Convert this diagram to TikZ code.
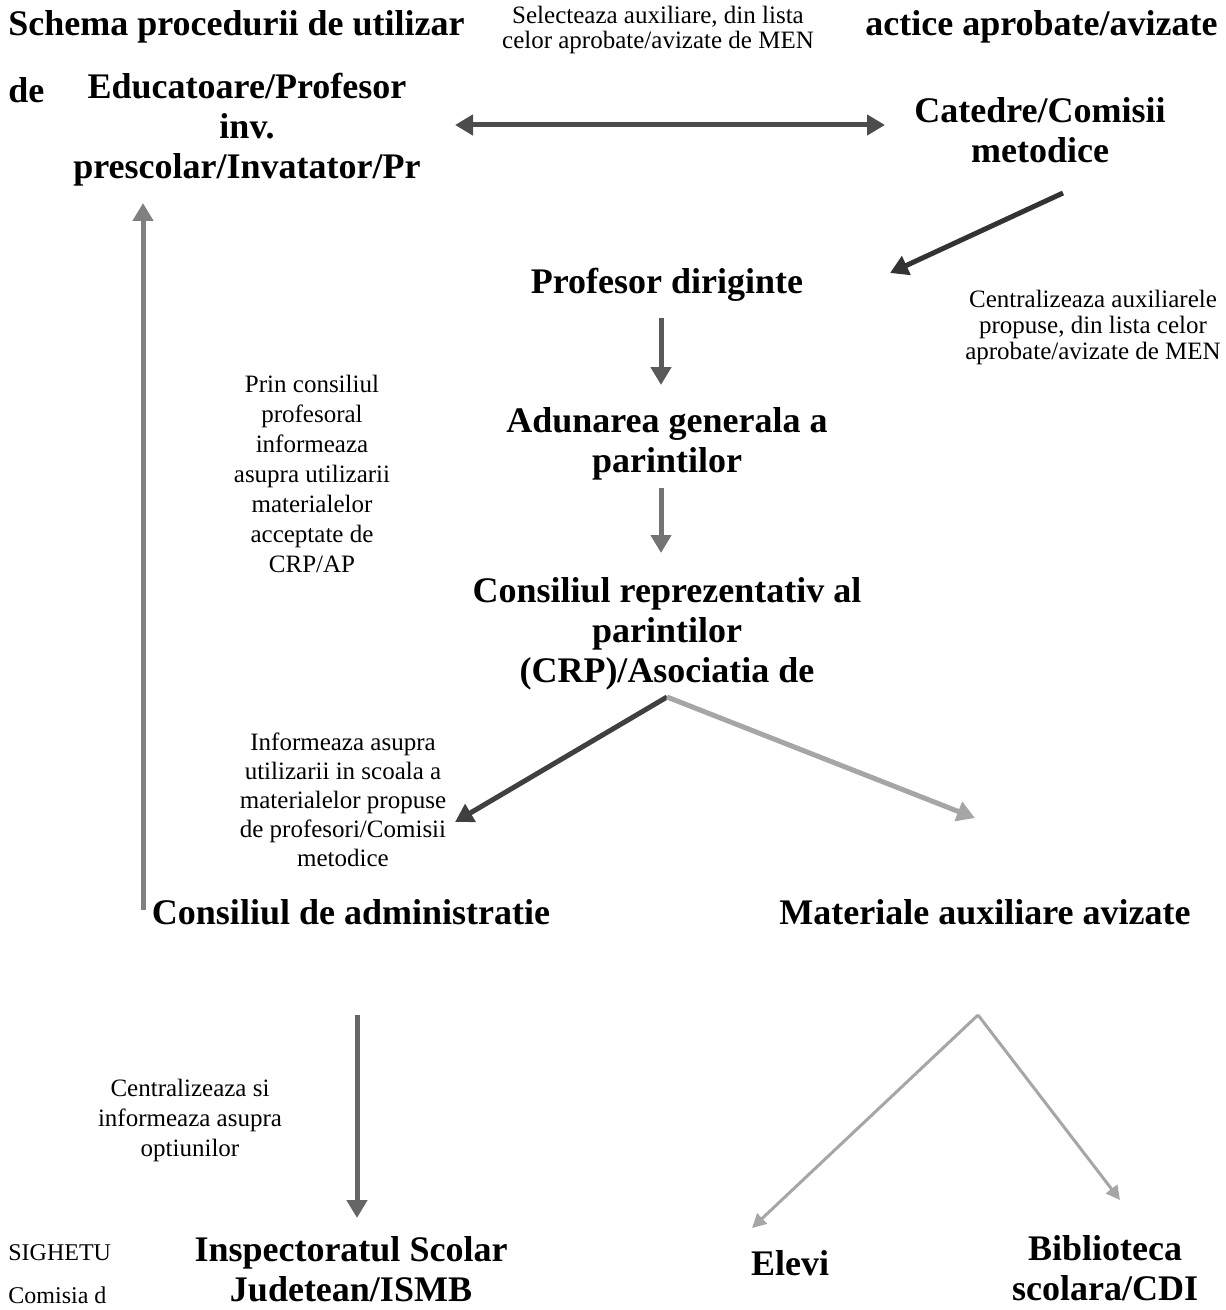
\documentclass[tikz,border=0pt]{standalone}
\usepackage{fontspec}
\setmainfont{Liberation Serif}
\usetikzlibrary{arrows.meta}
\begin{document}
\begin{tikzpicture}[x=0.5pt,y=-0.5pt,
  box/.style={font=\fontsize{18}{20}\selectfont\bfseries,align=center,inner sep=0pt},
  note/.style={font=\fontsize{12.5}{14}\selectfont,align=center,inner sep=0pt},
  arr/.style={line width=2.5pt,-{Triangle[width=10pt,length=9pt]}},
  thin arr/.style={line width=1.5pt,-{Triangle[width=7pt,length=7pt]}}]
\useasboundingbox (0,0) rectangle (1225,1310);
% titlu si noduri
\node[box,anchor=west] (title) at (8,27) {Schema procedurii de utilizar};
\node[box,anchor=east] (titleR) at (1218,27) {actice aprobate/avizate};
\node[box,anchor=west] (de) at (8,90) {de};
\node[box] (educ) at (247,130) {Educatoare/Profesor\\inv.\\prescolar/Invatator/Pr};
\node[box] (catedre) at (1040,130) {Catedre/Comisii\\metodice};
\node[box] (diriginte) at (667,285) {Profesor diriginte};
\node[box] (adunarea) at (667,444) {Adunarea generala a\\parintilor};
\node[box] (crp) at (667,634) {Consiliul reprezentativ al\\parintilor\\(CRP)/Asociatia de};
\node[box] (admin) at (351,912) {Consiliul de administratie};
\node[box] (mat) at (985,912) {Materiale auxiliare avizate};
\node[box] (isj) at (351,1269) {Inspectoratul Scolar\\Judetean/ISMB};
\node[box] (elevi) at (790,1263) {Elevi};
\node[box] (biblio) at (1105,1268) {Biblioteca\\scolara/CDI};
\node[note,font=\fontsize{12}{14}\selectfont,anchor=west] (sighetu) at (8,1253) {SIGHETU};
\node[note,font=\fontsize{12}{14}\selectfont,anchor=west] (comisia) at (8,1295) {Comisia d};
% etichete
\node[note,font=\fontsize{12.5}{12.5}\selectfont] (selnote) at (658,30) {Selecteaza auxiliare, din lista\\celor aprobate/avizate de MEN};
\node[note,font=\fontsize{12.5}{13}\selectfont] (centnote) at (1093,327) {Centralizeaza auxiliarele\\propuse, din lista celor\\aprobate/avizate de MEN};
\node[note,font=\fontsize{12.5}{15}\selectfont] (prinnote) at (312,474) {Prin consiliul\\profesoral\\informeaza\\asupra utilizarii\\materialelor\\acceptate de\\CRP/AP};
\node[note,font=\fontsize{12.5}{14.5}\selectfont] (infnote) at (343,800) {Informeaza asupra\\utilizarii in scoala a\\materialelor propuse\\de profesori/Comisii\\metodice};
\node[note,font=\fontsize{12.5}{15}\selectfont] (centsi) at (190,1120) {Centralizeaza si\\informeaza asupra\\optiunilor};
% sageti
\draw[arr,{Triangle[width=10pt,length=9pt]}-{Triangle[width=10pt,length=9pt]},black!70] ([shift={(208,-5)}]educ.center) -- ([shift={(-155,-5)}]catedre.center);
\draw[arr,black!80] ([shift={(23,63)}]catedre.center) -- ([shift={(223,-12)}]diriginte.center);
\draw[arr,black!65] ([shift={(-6,33)}]diriginte.center) -- ([shift={(-6,-59)}]adunarea.center);
\draw[arr,black!55] ([shift={(-6,44)}]adunarea.center) -- ([shift={(-6,-81)}]crp.center);
\draw[arr,black!75] ([shift={(0,63)}]crp.center) -- ([shift={(104,-90)}]admin.center);
\draw[arr,black!35] ([shift={(0,63)}]crp.center) -- ([shift={(-10,-94)}]mat.center);
\draw[arr,black!60] ([shift={(6,103)}]admin.center) -- ([shift={(6,-51)}]isj.center);
\draw[arr,black!50] ([shift={(-208,-2)}]admin.center) -- ([shift={(-104,73)}]educ.center);
\draw[thin arr,black!35] ([shift={(-7,103)}]mat.center) -- ([shift={(-38,-35)}]elevi.center);
\draw[thin arr,black!35] ([shift={(-7,103)}]mat.center) -- ([shift={(15,-68)}]biblio.center);
\end{tikzpicture}
\end{document}
